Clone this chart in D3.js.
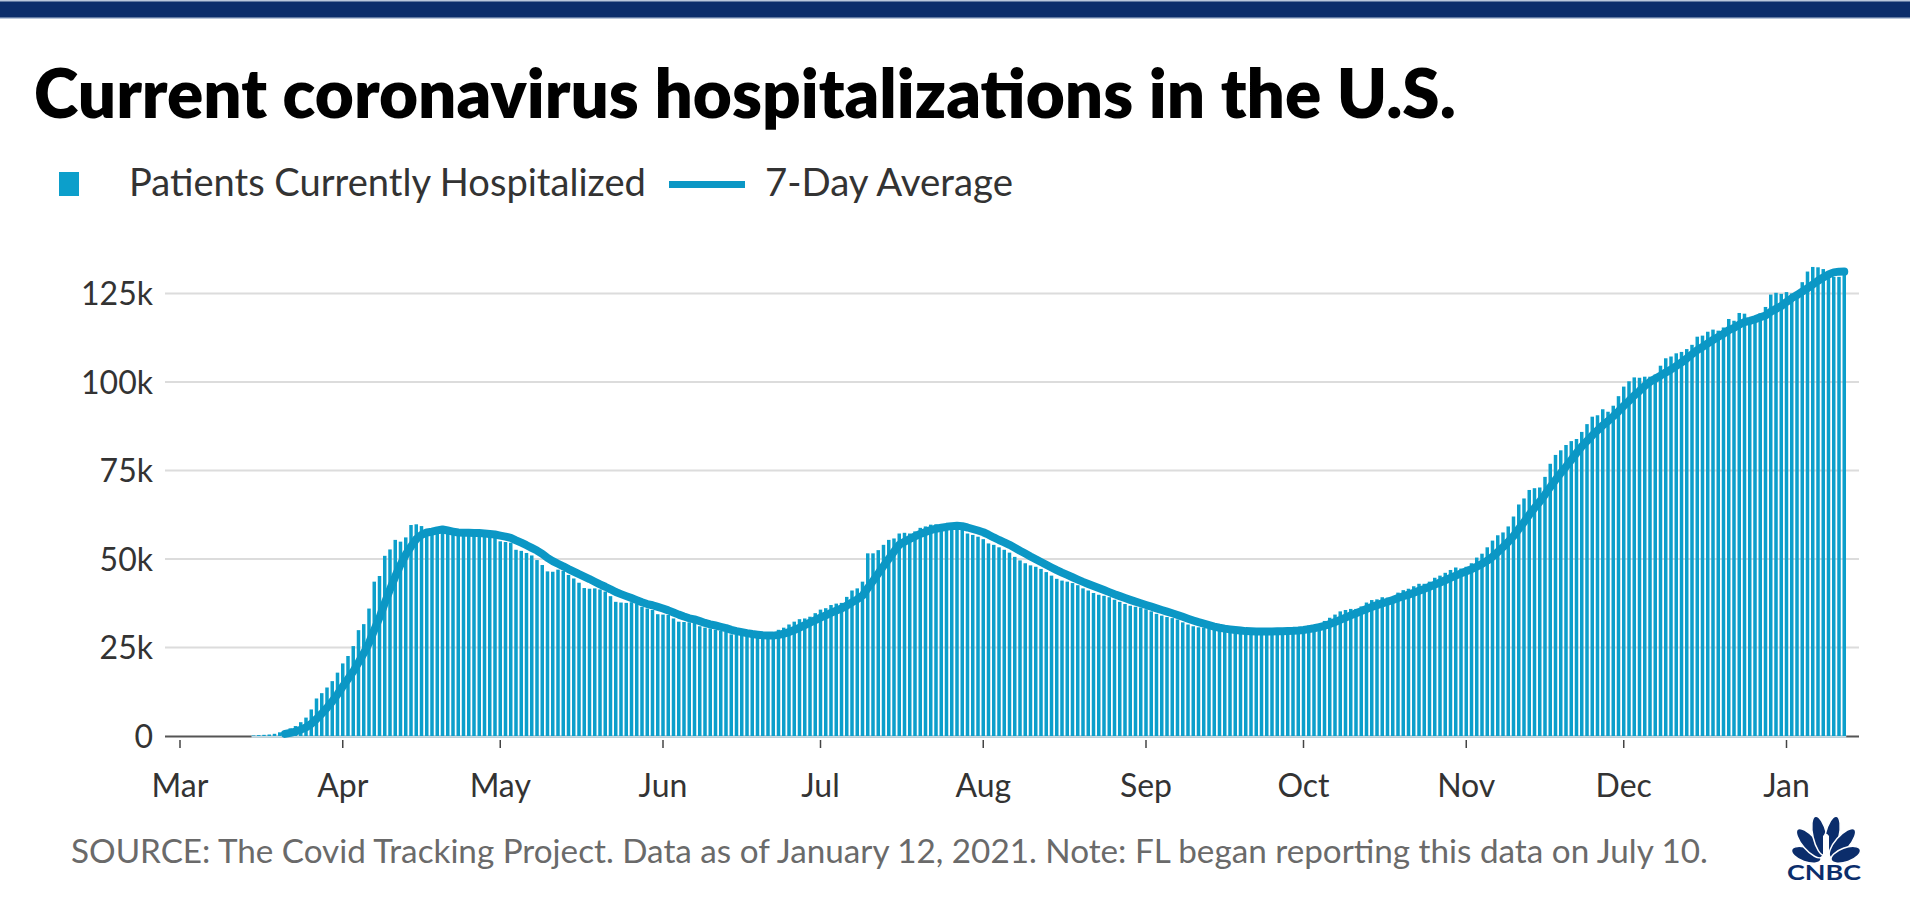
<!DOCTYPE html>
<html><head><meta charset="utf-8">
<script src="https://cdn.jsdelivr.net/npm/d3@7"></script>
<style>
html,body{margin:0;padding:0;background:#fff;overflow:hidden;}
svg{display:block;}
text{font-family:Lato,"Open Sans","DejaVu Sans",sans-serif;}
</style></head><body>
<svg id="chart" width="1910" height="903"></svg>
<script>
// ---------- text ----------
const titleText = "Current coronavirus hospitalizations in the U.S.";
const seriesNames = ["Patients Currently Hospitalized", "7-Day Average"];
const sourceText = "SOURCE: The Covid Tracking Project. Data as of January 12, 2021. Note: FL began reporting this data on July 10.";
const monthLabels = ["Mar","Apr","May","Jun","Jul","Aug","Sep","Oct","Nov","Dec","Jan"];
const monthTickDates = ["2020-03-01","2020-04-01","2020-05-01","2020-06-01","2020-07-01","2020-08-01","2020-09-01","2020-10-01","2020-11-01","2020-12-01","2021-01-01"];
const yTicks = [0, 25000, 50000, 75000, 100000, 125000];
const yTickLabels = ["0","25k","50k","75k","100k","125k"];

// ---------- daily currently hospitalized ----------
const mar2020 = [150,250,330,420,620,1040,1440,2160,2810,3900,5200,7500,10600,12100,13700,15500,17900]; // from Mar 15
const apr2020 = [20500,22600,25400,29900,31600,36000,43600,45200,50900,52700,
                 55400,54900,56100,59600,59800,59300,57300,57000,57500,57800,
                 57600,57700,57400,57100,56800,57200,57500,56900,56600,56300];
const may2020 = [55000,54800,54600,52600,52300,51700,51000,49700,48300,46500,
                 46400,47000,46700,45500,44500,43300,41800,41600,41700,41400,
                 40800,39500,37900,37700,37600,37800,37400,36500,36000,35600,34400];
const jun2020 = [34300,34200,33200,32300,32200,32100,32200,31000,30600,30400,
                 30000,29700,29500,28700,28600,28600,28300,28200,28400,28300,
                 28200,28500,30000,30600,31500,32300,33000,33200,33700,34700];
const jul2020 = [35700,36100,37000,37400,37600,39300,41100,41700,43600,51600,
                 51600,52500,54000,55400,55800,57200,57400,57200,57800,58800,
                 59200,59700,59800,59300,59000,59200,59500,58300,57200,56800,56300];
const aug2020 = [55600,54400,54000,53300,52600,51800,50600,49600,48800,48200,
                 47800,47200,46300,45300,44400,43900,43600,43200,42600,41700,
                 41100,40400,39900,39600,39200,38500,37900,37300,36800,36500,36300];
const sep2020 = [35800,35200,34500,34000,33600,33300,32900,32100,31500,31000,
                 30700,30600,30400,30000,29900,29700,29600,29500,29400,29300,
                 29500,29600,29700,29700,29600,29500,29600,29800,30000,30400];
const oct2020 = [30800,31200,31300,31700,32500,33400,34300,35200,35600,35900,
                 35900,36600,37700,38400,38600,39200,39100,39300,40500,41200,
                 41600,42300,43000,43000,43600,44700,45300,46100,46900,47600,47300];
const nov2020 = [47800,48800,50400,51500,53300,55200,56700,57500,59200,62000,
                 65400,67100,69500,70000,70200,73200,76900,79400,80700,82200,
                 83300,83900,85900,88100,90200,90600,92300,91600,93300,96000];
const dec2020 = [98700,100200,101300,101200,101500,101500,102100,104600,106700,107200,
                 108100,108500,109300,110500,112800,113100,114200,114800,114500,115400,
                 117800,117300,119500,119300,117200,117600,119400,121200,124700,125200,124900];
const jan2021 = [125400,125000,125500,128200,131200,132500,132400,131900,130800,129700,129700,131300];

const monthBlocks = [
  [2020,2,15,mar2020],[2020,3,1,apr2020],[2020,4,1,may2020],[2020,5,1,jun2020],
  [2020,6,1,jul2020],[2020,7,1,aug2020],[2020,8,1,sep2020],[2020,9,1,oct2020],
  [2020,10,1,nov2020],[2020,11,1,dec2020],[2021,0,1,jan2021]
];

const data = [];
monthBlocks.forEach(([y,m,d,arr]) => arr.forEach((v,i) => data.push({date:new Date(Date.UTC(y,m,d+i)), value:v})));
// trailing 7-day average
const avg = [];
for (let i = 6; i < data.length; i++) {
  avg.push({date: data[i].date, value: d3.mean(data.slice(i-6, i+1), d => d.value)});
}

// ---------- colors ----------
const barColor = "#0c9fcb";
const lineColor = "#0b97c5";
const navy = "#0b2d6b";

const svg = d3.select("#chart");

// top band
svg.append("rect").attr("x",0).attr("y",0).attr("width",1910).attr("height",19).attr("fill","#b9c6db");
svg.append("rect").attr("x",0).attr("y",1.5).attr("width",1910).attr("height",16).attr("fill",navy);

// title
const title = svg.append("text").attr("x",34).attr("y",118).attr("font-size",60)
  .attr("font-weight",800).attr("fill","#000").text(titleText);

// legend
svg.append("rect").attr("x",59).attr("y",172).attr("width",20).attr("height",24).attr("fill",barColor);
const lt1 = svg.append("text").attr("x",129).attr("y",196).attr("font-size",31).attr("fill","#333").text(seriesNames[0]);
svg.append("line").attr("x1",669).attr("x2",745).attr("y1",184.5).attr("y2",184.5)
  .attr("stroke",lineColor).attr("stroke-width",7);
const lt2 = svg.append("text").attr("x",765).attr("y",196).attr("font-size",31).attr("fill","#333").text(seriesNames[1]);

// scales
const x = d3.scaleUtc().domain([new Date(Date.UTC(2020,2,1)), new Date(Date.UTC(2021,0,15))]).range([180, 1860]);
const y = d3.scaleLinear().domain([0,125000]).range([736, 293.5]);
const gridX0 = 165, gridX1 = 1859;

// gridlines
svg.append("g").selectAll("line").data(yTicks.filter(d => d > 0)).join("line")
  .attr("x1",gridX0).attr("x2",gridX1).attr("y1",d => y(d)).attr("y2",d => y(d))
  .attr("stroke","#dcdcdc").attr("stroke-width",2);

// y labels
svg.append("g").selectAll("text").data(yTicks).join("text")
  .attr("x",153).attr("y",d => y(d) + 11.5).attr("text-anchor","end")
  .attr("font-size",32).attr("fill","#333").text((d,i) => yTickLabels[i]);

// baseline
svg.append("line").attr("x1",gridX0).attr("x2",gridX1).attr("y1",736.5).attr("y2",736.5)
  .attr("stroke","#555").attr("stroke-width",2);
svg.append("line").attr("x1",x(data[0].date)-2).attr("x2",x(data[data.length-1].date)+2)
  .attr("y1",736.5).attr("y2",736.5).attr("stroke","#c4dce6").attr("stroke-width",2.5);

// bars
const barW = 3.5;
svg.append("g").selectAll("rect").data(data).join("rect")
  .attr("x",d => x(d.date) - barW/2).attr("width",barW)
  .attr("y",d => y(d.value)).attr("height",d => y(0) - y(d.value))
  .attr("fill",barColor);

// 7-day average line
svg.append("path").datum(avg)
  .attr("d", d3.line().x(d => x(d.date)).y(d => y(d.value)))
  .attr("fill","none").attr("stroke",lineColor).attr("stroke-width",8)
  .attr("stroke-linejoin","round").attr("stroke-linecap","round");

// x ticks + labels
const tickDates = monthTickDates.map(s => new Date(s + "T00:00:00Z"));
const xa = svg.append("g");
xa.selectAll("line").data(tickDates).join("line")
  .attr("x1",d => x(d)).attr("x2",d => x(d)).attr("y1",740).attr("y2",748)
  .attr("stroke","#444").attr("stroke-width",1.5);
xa.selectAll("text").data(tickDates).join("text")
  .attr("x",d => x(d)).attr("y",797).attr("text-anchor","middle")
  .attr("font-size",32).attr("fill","#333").text((d,i) => monthLabels[i]);

// source
const src = svg.append("text").attr("x",71).attr("y",863).attr("font-size",27).attr("fill","#6a6a6a").text(sourceText);

// fit text widths to the reference layout
function fit(sel, target) {
  const w = sel.node().getComputedTextLength();
  const fs = parseFloat(sel.attr("font-size"));
  if (w > 0) sel.attr("font-size", (fs * target / w).toFixed(2));
}
fit(title, 1422);
fit(lt1, 517);
fit(lt2, 248);
fit(src, 1637);

// CNBC logo
const logo = svg.append("g").attr("transform","translate(1826,862)");
const feathers = [[-70,21,7,15.5],[-41,25,7,18.5],[-13,27,7,20],[13,27,7,20],[41,25,7,18.5],[70,21,7,15.5]];
feathers.forEach(([a,dist,rx,ry]) => {
  const rad = a*Math.PI/180;
  logo.append("ellipse")
    .attr("cx", dist*Math.sin(rad)).attr("cy", -dist*Math.cos(rad))
    .attr("rx", rx).attr("ry", ry)
    .attr("transform", `rotate(${a} ${dist*Math.sin(rad)} ${-dist*Math.cos(rad)})`)
    .attr("fill", navy).attr("stroke","#fff").attr("stroke-width",1.5);
});
logo.append("path").attr("d","M-3,0 L-3,-26 Q0,-31 3,-26 L3,0 Z").attr("fill","#fff");
svg.append("text").attr("x",1824).attr("y",880).attr("text-anchor","middle")
  .attr("font-family","'Liberation Sans Narrow','DejaVu Sans Condensed',sans-serif")
  .attr("font-weight",700).attr("font-size",20).attr("fill",navy)
  .attr("textLength",74).attr("lengthAdjust","spacingAndGlyphs").text("CNBC");
</script>
</body></html>
